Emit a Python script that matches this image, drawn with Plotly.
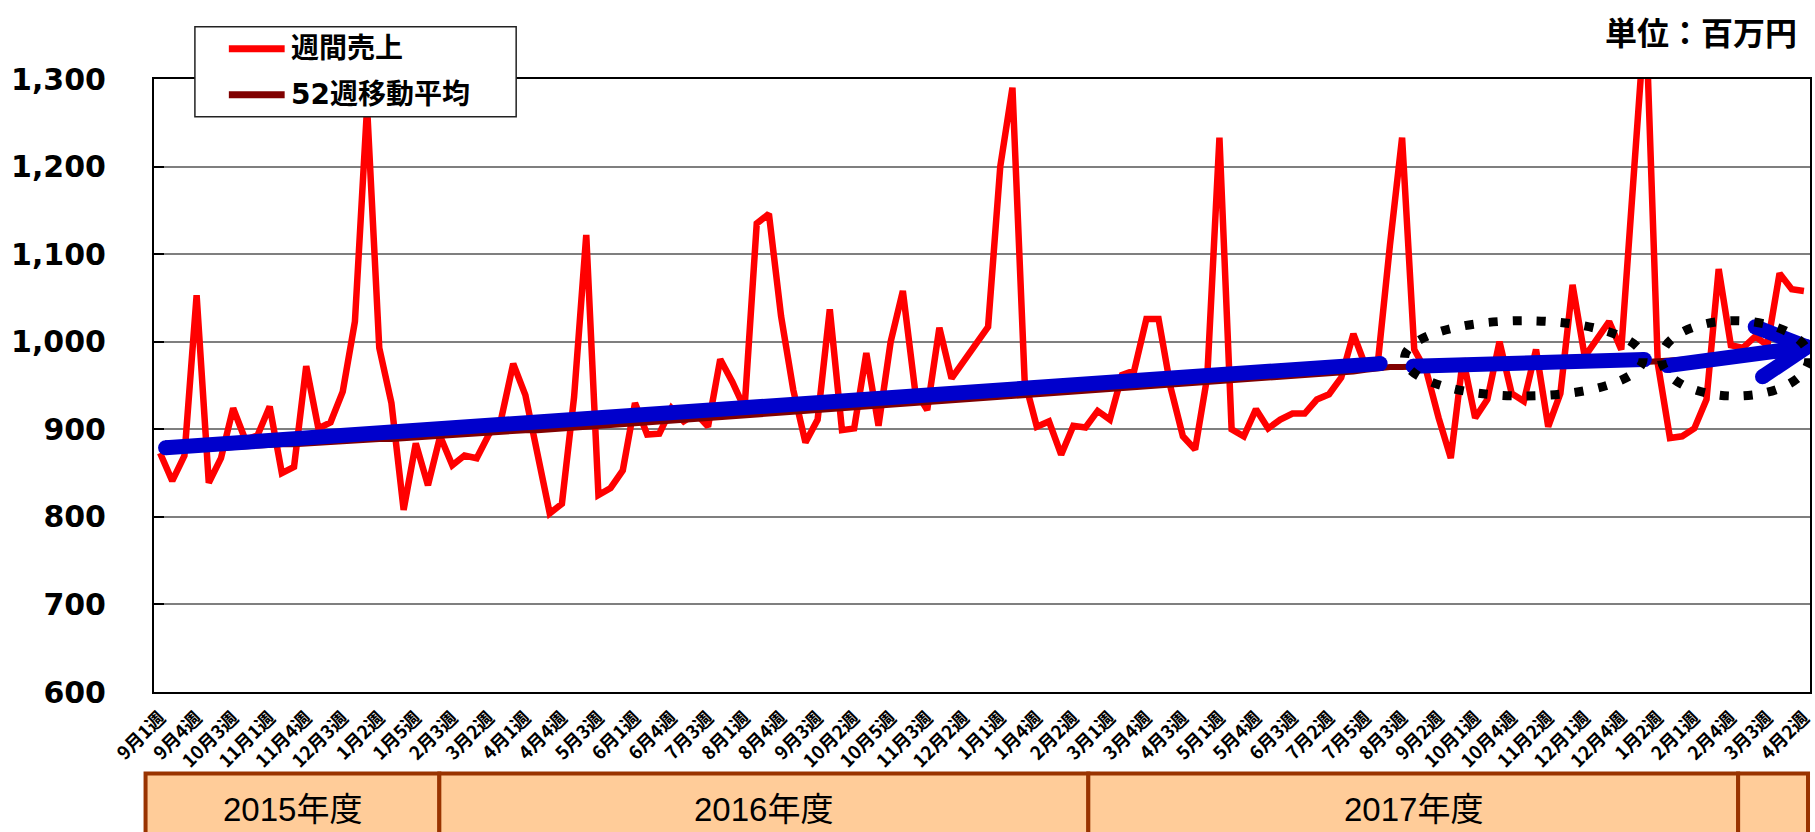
import plotly.graph_objects as go

# ---------------- data ----------------
weekly_sales = [
    873, 841, 870, 1053, 839, 867, 924, 888, 893, 926,
    850, 857, 972, 901, 908, 943, 1023, 1268, 993, 930,
    808, 884, 836, 892, 859, 870, 867, 894, 911, 975,
    939, 870, 804, 815, 937, 1122, 825, 833, 853, 930,
    894, 895, 924, 909, 918, 903, 980, 954, 924, 1135,
    1146, 1029, 945, 885, 911, 1037, 899, 901, 987, 904,
    1000, 1058, 945, 922, 1016, 958, 978, 998, 1017, 1200,
    1290, 956, 903, 909, 871, 904, 902, 921, 911, 962,
    967, 1026, 1026, 947, 892, 877, 960, 1233, 900, 892,
    923, 901, 911, 918, 918, 934, 940, 959, 1009, 972,
    975, 1110, 1233, 991, 966, 913, 867, 981, 913, 934,
    1000, 941, 932, 991, 903, 941, 1065, 983, 1003, 1023,
    991, 1170, 1380, 975, 890, 892, 901, 934, 1083, 996,
    993, 1006, 996, 1078, 1060, 1058,
]

moving_avg_52 = [
    876, 877, 877, 878, 878, 879, 880, 881, 881, 882,
    883, 883, 884, 885, 885, 886, 887, 888, 889, 889,
    890, 891, 892, 893, 893, 894, 895, 896, 897, 898,
    899, 899, 900, 901, 902, 903, 904, 905, 906, 906,
    907, 908, 909, 910, 911, 912, 913, 914, 915, 916,
    917, 918, 919, 920, 921, 922, 923, 924, 925, 926,
    927, 928, 929, 930, 931, 932, 933, 934, 935, 936,
    937, 938, 939, 940, 941, 942, 943, 944, 945, 946,
    947, 948, 949, 950, 951, 952, 953, 954, 955, 956,
    957, 958, 959, 960, 961, 962, 963, 964, 966, 968,
    970, 971, 971, 972, 972, 972, 972, 973, 973, 973,
    973, 973, 973, 974, 974, 974, 974, 975, 975, 975,
    975, 976, 977, 978, 979, 980, 980, 981, 982, 982,
    983, 983, 984, 984, 985, 985,
]

tick_labels = [
    "9月1週", "9月4週", "10月3週", "11月1週", "11月4週", "12月3週", "1月2週", "1月5週",
    "2月3週", "3月2週", "4月1週", "4月4週", "5月3週", "6月1週", "6月4週", "7月3週",
    "8月1週", "8月4週", "9月3週", "10月2週", "10月5週", "11月3週", "12月2週", "1月1週",
    "1月4週", "2月2週", "3月1週", "3月4週", "4月3週", "5月1週", "5月4週", "6月3週",
    "7月2週", "7月5週", "8月3週", "9月2週", "10月1週", "10月4週", "11月2週", "12月1週",
    "12月4週", "1月2週", "2月1週", "2月4週", "3月3週", "4月2週",
]

fiscal_years = ["2015年度", "2016年度", "2017年度", ""]
series_names = ["週間売上", "52週移動平均"]
unit_label = "単位：百万円"

# ---------------- figure ----------------
n = len(weekly_sales)
x = list(range(n))
tickvals = list(range(0, n, 3))

RED = "#FF0000"
DARKRED = "#800000"
BLUE = "#0000CC"
CJK = "Noto Sans CJK JP"

fig = go.Figure()
fig.add_trace(go.Scatter(x=x, y=weekly_sales, mode="lines", name=series_names[0],
                         line=dict(color=RED, width=6.5), showlegend=False))
fig.add_trace(go.Scatter(x=x, y=moving_avg_52, mode="lines", name=series_names[1],
                         line=dict(color=DARKRED, width=6), showlegend=False))

shapes = []

# hand-drawn blue trend arrows (annotation overlay)
blue_segments = [
    ((0.45, 879), (100.2, 975)),
    ((102.9, 972), (121.9, 979.6)),
    ((123.8, 972.7), (135.25, 994)),
    ((131.0, 1017), (135.25, 994)),
    ((131.6, 960), (135.25, 994)),
]
for (xa, ya), (xb, yb) in blue_segments:
    shapes.append(dict(type="line", xref="x", yref="y", x0=xa, y0=ya, x1=xb, y1=yb,
                       line=dict(color=BLUE, width=15), layer="above"))
    for (xc, yc) in ((xa, ya), (xb, yb)):
        shapes.append(dict(type="circle", xref="x", yref="y", xsizemode="pixel", ysizemode="pixel",
                           xanchor=xc, yanchor=yc, x0=-7.5, x1=7.5, y0=-7.5, y1=7.5,
                           fillcolor=BLUE, line=dict(width=0), layer="above"))

# dotted ellipses
for (ex0, ex1) in ((102.2, 121.8), (123.3, 135.4)):
    shapes.append(dict(type="circle", xref="x", yref="y", x0=ex0, x1=ex1, y0=938, y1=1024,
                       line=dict(color="black", width=9, dash="9px,15px"), layer="above"))

# custom legend box
shapes.append(dict(type="rect", xref="paper", yref="paper", x0=0.0247, x1=0.2187,
                   y0=0.9385, y1=1.0853, fillcolor="white",
                   line=dict(color="#222", width=1.5), layer="above"))
legend_rows = [1.0494, 0.9744]
for name, col, yy in zip(series_names, [RED, DARKRED], legend_rows):
    shapes.append(dict(type="line", xref="paper", yref="paper", x0=0.0452, x1=0.0789,
                       y0=yy, y1=yy, line=dict(color=col, width=7), layer="above"))

# fiscal-year band below the axis
band_edges = [-0.0051, 0.1723, 0.5642, 0.9566, 0.9988]
band_top, band_bot = -0.133, -0.26
annotations = []
for i, lab in enumerate(fiscal_years):
    shapes.append(dict(type="rect", xref="paper", yref="paper",
                       x0=band_edges[i], x1=band_edges[i + 1], y0=band_bot, y1=band_top,
                       fillcolor="#FFCC99", line=dict(color="#993300", width=4), layer="above"))
    if lab:
        annotations.append(dict(text=lab, xref="paper", yref="paper",
                                x=(band_edges[i] + band_edges[i + 1]) / 2, y=-0.191,
                                xanchor="center", yanchor="middle", showarrow=False,
                                font=dict(family="Liberation Sans, " + CJK, size=33, color="black")))

for name, yy in zip(series_names, legend_rows):
    annotations.append(dict(text=name, xref="paper", yref="paper", x=0.0813, y=yy,
                            xanchor="left", yanchor="middle", showarrow=False,
                            font=dict(family="DejaVu Sans, " + CJK, size=28, color="black", weight="bold")))

annotations.append(dict(text=unit_label, xref="paper", yref="paper", x=0.9935, y=1.0788,
                        xanchor="right", yanchor="middle", showarrow=False,
                        font=dict(family=CJK, size=32, color="black", weight="bold")))

fig.update_layout(
    width=1815, height=832,
    margin=dict(l=154, r=1, t=79, b=140),
    paper_bgcolor="white", plot_bgcolor="white",
    shapes=shapes, annotations=annotations,
    showlegend=False,
    xaxis=dict(range=[-0.5, n - 0.5], tickmode="array", tickvals=tickvals, ticktext=tick_labels,
               tickangle=-45, tickfont=dict(family=CJK, size=18.5, color="black", weight="bold"),
               ticklabeloverflow="allow",
               showgrid=False, zeroline=False, showline=True, linecolor="black", linewidth=2,
               mirror=True, ticks="", ticklabelstandoff=6),
    yaxis=dict(range=[600, 1300], dtick=100, tick0=600, tickformat=",",
               tickfont=dict(family="DejaVu Sans", size=30, color="black", weight="bold"),
               showgrid=True, gridcolor="#7F7F7F", gridwidth=1.5, zeroline=False,
               showline=True, linecolor="black", linewidth=2, mirror=True,
               ticks="inside", ticklen=10, tickwidth=2, tickcolor="black",
               ticklabelstandoff=40),
)

fig.write_html("out.html", config={"displayModeBar": False},
               post_script="document.body.style.margin='0';document.body.style.overflow='hidden';")
